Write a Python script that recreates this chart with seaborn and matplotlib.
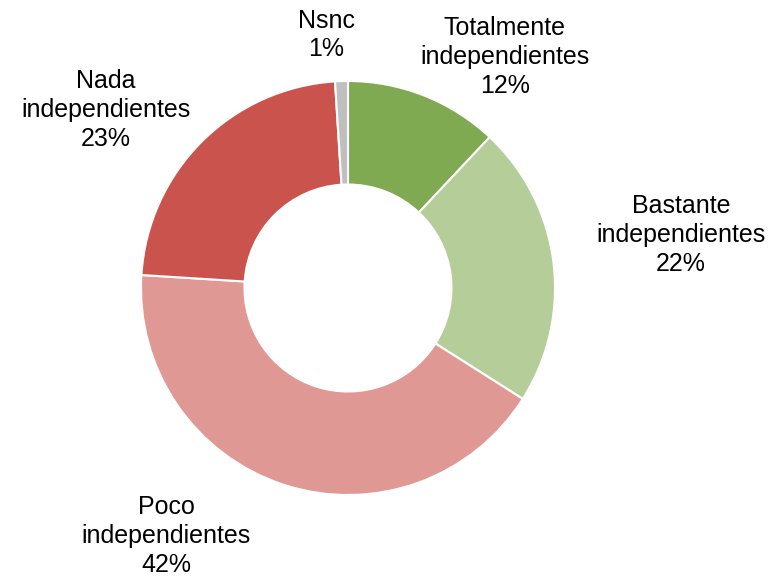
import matplotlib.pyplot as plt
import seaborn as sns

categories = ["Totalmente\nindependientes", "Bastante\nindependientes",
              "Poco\nindependientes", "Nada\nindependientes", "Nsnc"]
values = [12, 22, 42, 23, 1]
colors = ["#7FAA52", "#B5CD98", "#E09895", "#CB534E", "#BFBFBF"]
# label anchor positions in pixel space (x, y from top)
label_pos = [(505, 57), (681, 235), (166, 536), (106, 110), (326, 35)]

sns.set_theme(style="white")
plt.rcParams["font.family"] = ["Liberation Sans", "DejaVu Sans"]

W, H = 780, 581
fig = plt.figure(figsize=(W / 100, H / 100), dpi=100)
ax = fig.add_axes([0, 0, 1, 1])

cx, cy, r = 348, H - 288, 207
ax.pie(values, colors=colors, startangle=90, counterclock=False,
       center=(cx, cy), radius=r, frame=True,
       wedgeprops=dict(width=r * 0.5, edgecolor="white", linewidth=1.5))
ax.set_xlim(0, W)
ax.set_ylim(0, H)
ax.set_aspect("equal")
ax.axis("off")

for cat, val, (x, y) in zip(categories, values, label_pos):
    ax.text(x, H - y, f"{cat}\n{val}%", ha="center", va="center",
            fontsize=18, color="black", linespacing=1.24)

fig.savefig("out.png", dpi=100, facecolor="white")
